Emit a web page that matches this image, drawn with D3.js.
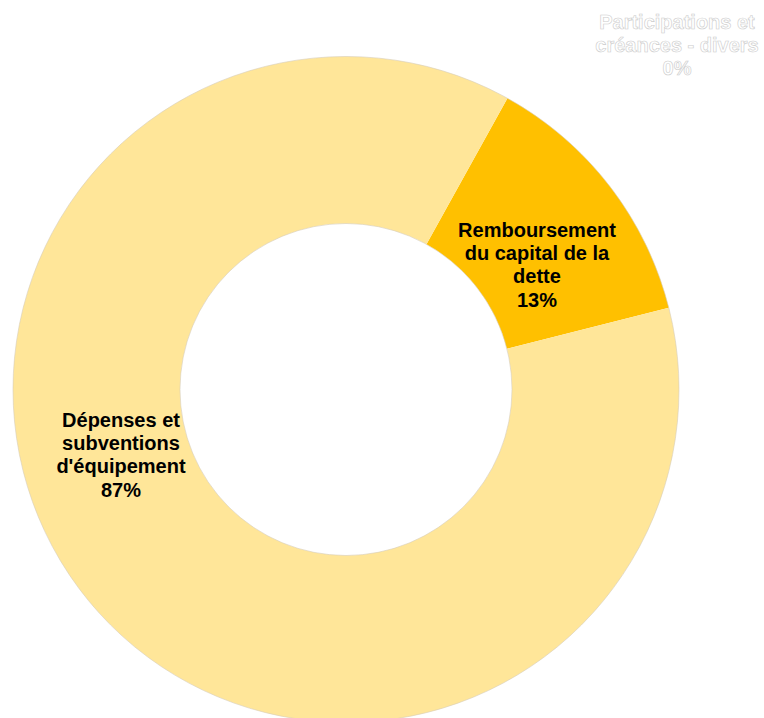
<!DOCTYPE html>
<html>
<head>
<meta charset="utf-8">
<script src="https://cdn.jsdelivr.net/npm/d3@7"></script>
<style>
  html, body { margin: 0; padding: 0; background: #ffffff; }
  svg { display: block; }
</style>
</head>
<body>
<svg id="chart" width="764" height="718"></svg>
<script>
// Investment spending breakdown (%)
const categories = [
  "Participations et créances - divers",
  "Remboursement du capital de la dette",
  "Dépenses et subventions d'équipement"
];
const values = [0, 13, 87];
const labelLines = [
  ["Participations et", "créances - divers"],
  ["Remboursement", "du capital de la", "dette"],
  ["Dépenses et", "subventions", "d'équipement"]
];
const colors = ["#FFC000", "#FFC000", "#FFE699"];

const W = 764, H = 718;
const cx = 346, cy = 389.5;
const outerR = 333, innerR = 166;
const firstAngle = 29 * Math.PI / 180;

const svg = d3.select("#chart");
const g = svg.append("g").attr("transform", `translate(${cx},${cy})`);

const data = categories.map((c, i) => ({ name: c, value: values[i], lines: labelLines[i], color: colors[i] }));

const pie = d3.pie()
  .sort(null)
  .value(d => d.value)
  .startAngle(firstAngle)
  .endAngle(firstAngle + 2 * Math.PI);

const arc = d3.arc().innerRadius(innerR).outerRadius(outerR);
const arcs = pie(data);

g.selectAll("path.slice")
  .data(arcs.filter(a => a.data.value > 0))
  .join("path")
  .attr("class", "slice")
  .attr("d", arc)
  .attr("fill", d => d.data.color);

// faint rim around the ring
g.append("circle").attr("r", outerR).attr("fill", "none")
  .attr("stroke", "#d6cdb8").attr("stroke-width", 0.6);
g.append("circle").attr("r", innerR).attr("fill", "none")
  .attr("stroke", "#d6cdb8").attr("stroke-width", 0.6);

// label anchor points (first baseline), placed in page coordinates
const labelPos = [
  { x: 677, y: 29, fill: "#ffffff", stroke: "#cccccc" },
  { x: 537, y: 237, fill: "#000000", stroke: "none" },
  { x: 121, y: 427, fill: "#000000", stroke: "none" }
];
const lineH = 23.2;
const fmt = d3.format(".0%");
const total = d3.sum(values);

arcs.forEach((a, i) => {
  const p = labelPos[i];
  const lines = a.data.lines.concat([fmt(a.data.value / total)]);
  const t = svg.append("text")
    .attr("x", p.x).attr("y", p.y)
    .attr("text-anchor", "middle")
    .attr("font-family", "'Liberation Sans', Arial, sans-serif")
    .attr("font-weight", "bold")
    .attr("font-size", 20)
    .attr("fill", p.fill)
    .attr("stroke", p.stroke)
    .attr("stroke-width", p.stroke === "none" ? 0 : 0.6);
  lines.forEach((ln, k) => {
    t.append("tspan").attr("x", p.x).attr("y", p.y + k * lineH).text(ln);
  });
});
</script>
</body>
</html>
